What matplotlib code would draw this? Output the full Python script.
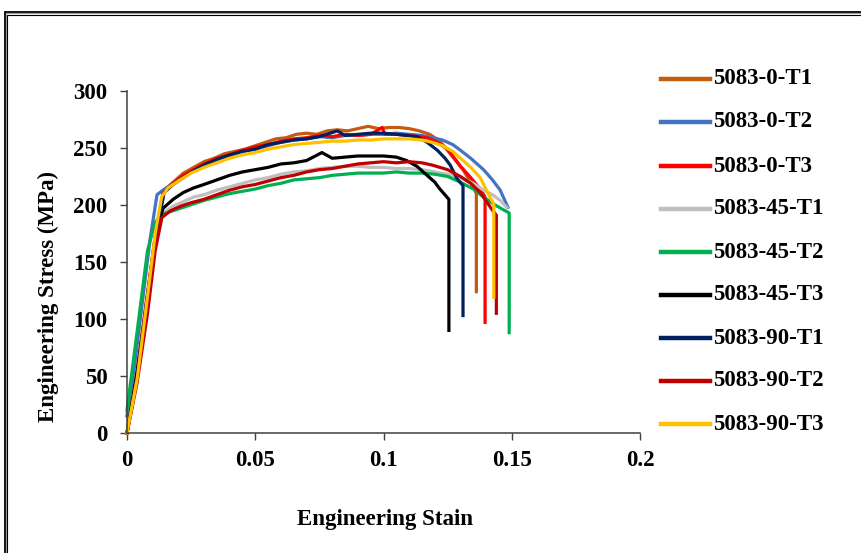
import matplotlib
matplotlib.use("Agg")
import matplotlib.pyplot as plt
from matplotlib.lines import Line2D
from matplotlib.patches import Rectangle

plt.rcParams['font.family'] = ['Liberation Serif', 'DejaVu Serif']
plt.rcParams['font.weight'] = 'bold'

labels = ["5083-0-T1", "5083-0-T2", "5083-0-T3", "5083-45-T1", "5083-45-T2",
          "5083-45-T3", "5083-90-T1", "5083-90-T2", "5083-90-T3"]
colors = ["#C55A11", "#4472C4", "#FF0000", "#BFBFBF", "#00B050",
          "#000000", "#002060", "#C00000", "#FFC000"]

strain_0_t1 = [0, 0.004, 0.0075, 0.011, 0.0145, 0.018, 0.022, 0.026, 0.03, 0.034, 0.038, 0.042,
               0.046, 0.05, 0.054, 0.058, 0.062, 0.066, 0.07, 0.074, 0.078, 0.082, 0.086, 0.09,
               0.094, 0.098, 0.102, 0.106, 0.11, 0.114, 0.118, 0.122, 0.126, 0.131, 0.135,
               0.1362, 0.1362]
stress_0_t1 = [0, 48, 110, 172, 213, 220, 228, 233, 238, 241, 245, 247, 249, 252, 255, 258, 259,
               262, 263, 262, 265, 266, 265, 267, 269, 267, 268, 268, 267, 265, 262, 256, 245,
               231, 216, 210, 124]

strain_0_t2 = [0, 0.003, 0.006, 0.009, 0.0117, 0.014, 0.018, 0.022, 0.026, 0.03, 0.035, 0.04,
               0.045, 0.05, 0.055, 0.06, 0.065, 0.07, 0.075, 0.08, 0.085, 0.09, 0.095, 0.1, 0.105,
               0.11, 0.115, 0.119, 0.123, 0.127, 0.13, 0.134, 0.139, 0.1425, 0.1455, 0.1485]
stress_0_t2 = [15, 60, 115, 170, 209, 213, 219, 225, 230, 234, 239, 243, 247, 249, 252, 255, 257,
               258, 260, 259, 261, 261, 262, 262, 263, 262, 261, 259, 257, 253, 248, 241, 231,
               222, 213, 198]

strain_0_t3 = [0, 0.004, 0.0075, 0.011, 0.014, 0.018, 0.022, 0.026, 0.03, 0.035, 0.04, 0.045,
               0.05, 0.055, 0.06, 0.065, 0.07, 0.075, 0.08, 0.085, 0.09, 0.095, 0.0995, 0.1005,
               0.105, 0.11, 0.117, 0.121, 0.125, 0.13, 0.134, 0.1377, 0.1396, 0.1396]
stress_0_t3 = [0, 55, 115, 172, 210, 219, 226, 231, 236, 241, 244, 248, 251, 253, 256, 258, 259,
               261, 260, 262, 261, 262, 268, 262, 262, 261, 259, 255, 249, 234, 224, 214, 207, 97]

strain_45_t1 = [0, 0.004, 0.008, 0.011, 0.014, 0.018, 0.022, 0.026, 0.03, 0.035, 0.04, 0.045,
                0.05, 0.055, 0.06, 0.065, 0.07, 0.075, 0.08, 0.085, 0.09, 0.095, 0.1, 0.105, 0.11,
                0.115, 0.12, 0.125, 0.13, 0.135, 0.139, 0.1425, 0.1455, 0.148]
stress_45_t1 = [0, 55, 120, 170, 193, 199, 203, 207, 209, 213, 216, 219, 222, 224, 227, 229, 230,
                232, 233, 234, 234, 233, 233, 232, 232, 231, 229, 227, 224, 219, 213, 209, 204, 198]

strain_45_t2 = [0, 0.004, 0.008, 0.011, 0.014, 0.018, 0.022, 0.026, 0.03, 0.035, 0.04, 0.045,
                0.05, 0.055, 0.06, 0.065, 0.07, 0.075, 0.08, 0.085, 0.09, 0.095, 0.1, 0.105, 0.11,
                0.115, 0.12, 0.125, 0.13, 0.135, 0.139, 0.1435, 0.1466, 0.149, 0.149]
stress_45_t2 = [20, 90, 160, 185, 192, 195, 198, 201, 204, 207, 210, 212, 214, 217, 219, 222, 223,
                224, 226, 227, 228, 228, 228, 229, 228, 228, 227, 225, 220, 214, 207, 200, 196,
                193, 88]

strain_45_t3 = [0, 0.004, 0.008, 0.011, 0.014, 0.018, 0.022, 0.026, 0.03, 0.035, 0.04, 0.045,
                0.05, 0.055, 0.06, 0.065, 0.07, 0.076, 0.08, 0.085, 0.09, 0.095, 0.1, 0.105,
                0.109, 0.113, 0.117, 0.12, 0.122, 0.1247, 0.1255, 0.1255]
stress_45_t3 = [0, 55, 120, 172, 197, 205, 211, 215, 218, 222, 226, 229, 231, 233, 236, 237, 239,
                246, 241, 242, 243, 243, 243, 242, 239, 234, 226, 220, 214, 207, 205, 90]

strain_90_t1 = [0, 0.004, 0.0075, 0.011, 0.0145, 0.018, 0.022, 0.026, 0.03, 0.035, 0.04, 0.045,
                0.05, 0.055, 0.06, 0.065, 0.07, 0.075, 0.082, 0.085, 0.09, 0.095, 0.1, 0.105,
                0.109, 0.113, 0.117, 0.121, 0.124, 0.126, 0.1287, 0.131, 0.131]
stress_90_t1 = [0, 50, 112, 170, 211, 218, 224, 230, 235, 240, 244, 247, 249, 253, 255, 257, 258,
                260, 265, 261, 262, 263, 263, 262, 261, 260, 255, 248, 241, 235, 223, 217, 103]

strain_90_t2 = [0, 0.004, 0.008, 0.011, 0.0136, 0.017, 0.021, 0.025, 0.03, 0.035, 0.04, 0.045,
                0.05, 0.055, 0.06, 0.065, 0.07, 0.075, 0.08, 0.085, 0.09, 0.095, 0.1, 0.105, 0.11,
                0.115, 0.119, 0.125, 0.13, 0.134, 0.1377, 0.1423, 0.144, 0.144]
stress_90_t2 = [0, 45, 105, 160, 189, 195, 199, 202, 205, 209, 213, 216, 218, 221, 224, 226, 229,
                231, 232, 234, 236, 237, 238, 237, 238, 237, 235, 231, 225, 219, 211, 196, 191, 105]

strain_90_t3 = [0, 0.004, 0.008, 0.011, 0.0135, 0.016, 0.02, 0.025, 0.03, 0.035, 0.04, 0.045,
                0.05, 0.055, 0.06, 0.065, 0.07, 0.075, 0.08, 0.085, 0.09, 0.095, 0.1, 0.105, 0.11,
                0.115, 0.119, 0.123, 0.127, 0.13, 0.134, 0.1377, 0.1415, 0.143, 0.143]
stress_90_t3 = [0, 48, 120, 175, 207, 215, 221, 228, 233, 237, 241, 244, 246, 249, 251, 253, 254,
                255, 256, 256, 257, 257, 258, 258, 258, 257, 255, 252, 247, 241, 233, 224, 207,
                201, 119]

strains = [strain_0_t1, strain_0_t2, strain_0_t3, strain_45_t1, strain_45_t2,
           strain_45_t3, strain_90_t1, strain_90_t2, strain_90_t3]
stresses = [stress_0_t1, stress_0_t2, stress_0_t3, stress_45_t1, stress_45_t2,
            stress_45_t3, stress_90_t1, stress_90_t2, stress_90_t3]

x_ticks = [0, 0.05, 0.1, 0.15, 0.2]
x_tick_labels = ["0", "0.05", "0.1", "0.15", "0.2"]
y_ticks = [0, 50, 100, 150, 200, 250, 300]

W, H = 861, 553
fig = plt.figure(figsize=(W / 100, H / 100), dpi=100)
ax = fig.add_axes([127 / W, 1 - 433 / H, (640 - 127) / W, (433 - 91) / H])

for xs, ys, c, lab in zip(strains, stresses, colors, labels):
    ax.plot(xs, ys, color=c, lw=2.3, label=lab, solid_joinstyle='round', clip_on=False)

ax.set_xlim(0, 0.2)
ax.set_ylim(0, 300)
ax.set_xticks(x_ticks)
ax.set_xticklabels(x_tick_labels)
ax.set_yticks(y_ticks)
for s in ("top", "right"):
    ax.spines[s].set_visible(False)
for s in ("left", "bottom"):
    ax.spines[s].set_linewidth(1.1)
    ax.spines[s].set_color("#404040")
ax.tick_params(axis="both", direction="out", length=5, width=1.0, color="#404040",
               labelsize=16.5)
ax.tick_params(axis="x", pad=7)
ax.tick_params(axis="y", pad=9)

ax.set_xlabel("Engineering Stain", fontsize=16.5, fontweight="bold")
ax.set_ylabel("Engineering Stress (MPa)", fontsize=16.5, fontweight="bold")
ax.xaxis.set_label_coords((385 - 127) / 513, (433 - 520) / 342)
ax.yaxis.set_label_coords((48 - 127) / 513, (433 - 297) / 342)
ax.xaxis.label.set_va("center")
ax.yaxis.label.set_va("center")

# legend column on the right
row_y = [79, 122, 166, 209, 252, 295, 338, 381, 424]
for yy, c, lab in zip(row_y, colors, labels):
    fy = 1 - yy / H
    fig.add_artist(Line2D([661 / W, 710 / W], [fy, fy], color=c, lw=3.2,
                          transform=fig.transFigure))
    fig.text(713 / W, fy, lab, fontsize=16.5, fontweight="bold", va="center", ha="left")

# double frame around the chart
def px_rect(x0, y0, lw, col):
    r = Rectangle((x0 / W, -0.05), 1.2, (H - y0) / H + 0.05, transform=fig.transFigure,
                  fill=False, lw=lw, edgecolor=col, clip_on=False)
    fig.add_artist(r)

px_rect(4.8, 11.7, 1.3, "#000000")
px_rect(6.3, 13.3, 0.8, "#9a9a9a")
px_rect(7.4, 15.3, 0.8, "#000000")

fig.savefig("out.png", dpi=100)
